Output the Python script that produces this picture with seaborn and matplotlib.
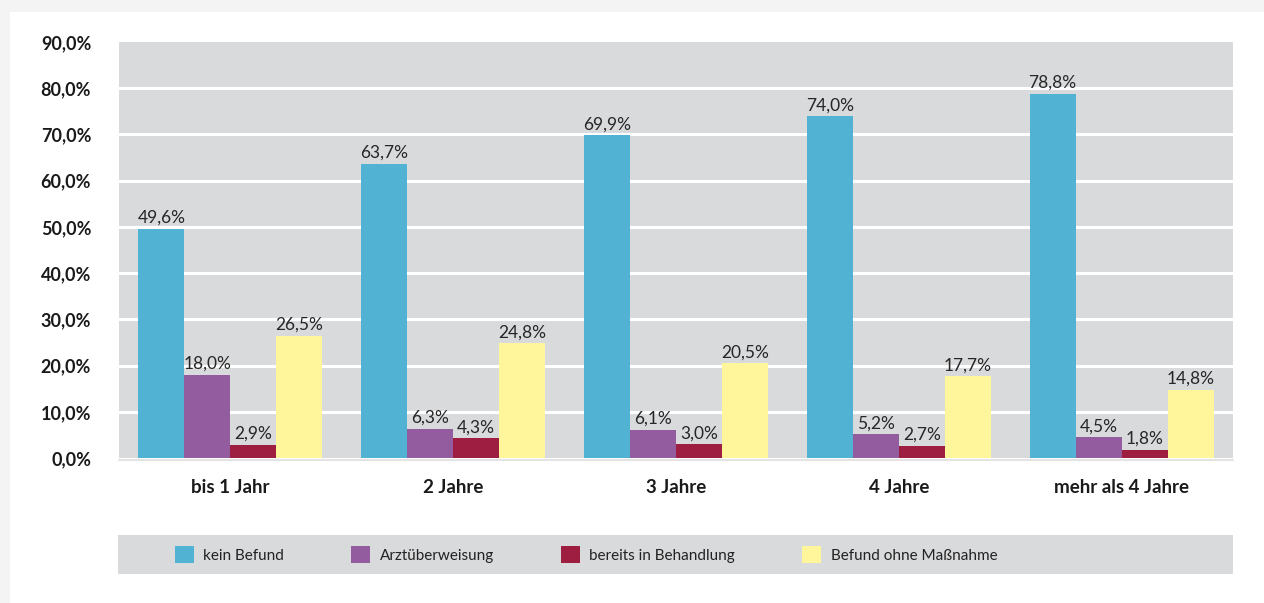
import matplotlib
matplotlib.use("Agg")
import matplotlib.pyplot as plt
from matplotlib.patches import Rectangle, Patch
import seaborn as sns
import pandas as pd

# Data
categories = ["bis 1 Jahr", "2 Jahre", "3 Jahre", "4 Jahre", "mehr als 4 Jahre"]
series_names = ["kein Befund", "Arztüberweisung", "bereits in Behandlung", "Befund ohne Maßnahme"]
kein_befund = [49.6, 63.7, 69.9, 74.0, 78.8]
arztueberweisung = [18.0, 6.3, 6.1, 5.2, 4.5]
in_behandlung = [2.9, 4.3, 3.0, 2.7, 1.8]
ohne_massnahme = [26.5, 24.8, 20.5, 17.7, 14.8]
y_ticks = [0, 10, 20, 30, 40, 50, 60, 70, 80, 90]

colors = ["#52B2D4", "#925C9F", "#9E1E42", "#FFF59B"]

series_values = [kein_befund, arztueberweisung, in_behandlung, ohne_massnahme]
rows = []
for name, vals in zip(series_names, series_values):
    for cat, v in zip(categories, vals):
        rows.append({"Altersgruppe": cat, "Serie": name, "Wert": v})
df = pd.DataFrame(rows)

sns.set_theme(style="white")
plt.rcParams["font.family"] = ["Lato", "DejaVu Sans"]

W, H = 1264, 603
fig = plt.figure(figsize=(W / 100, H / 100), dpi=100, facecolor="#f4f4f4")

# white card behind everything
fig.patches.append(Rectangle((10 / W, 0), 1 - 10 / W, 1 - 12 / H,
                             transform=fig.transFigure, facecolor="white",
                             edgecolor="none", zorder=-10))

ax = fig.add_axes([119 / W, (H - 458) / H, (1233 - 119) / W, (458 - 42) / H])
ax.set_facecolor("#D9DADC")

sns.barplot(data=df, x="Altersgruppe", y="Wert", hue="Serie",
            order=categories, hue_order=series_names, palette=colors,
            width=0.825, gap=0, saturation=1, legend=False, ax=ax,
            linewidth=0, zorder=3)

ax.set_xlim(-0.5, len(categories) - 0.5)
ax.set_ylim(0, 90)
ax.set_yticks(y_ticks)
ax.set_yticklabels([f"{t:.1f}".replace(".", ",") + "%" for t in y_ticks],
                   fontsize=13, fontweight="bold", color="#1a1a1a")
for t in y_ticks[1:-1]:
    ax.axhline(t, color="white", lw=2.2, zorder=1)

ax.tick_params(axis="x", length=0, pad=15, labelsize=13.5, labelcolor="#1a1a1a")
ax.tick_params(axis="y", length=0, pad=20)
for lbl in ax.get_xticklabels():
    lbl.set_fontweight("bold")
ax.set_xlabel("")
ax.set_ylabel("")
for s in ax.spines.values():
    s.set_visible(False)

# value labels
for container, vals in zip(ax.containers, series_values):
    ax.bar_label(container, labels=[f"{v:.1f}".replace(".", ",") + "%" for v in vals],
                 padding=2, fontsize=12.5, color="#262626")

# baseline below bars
ax.plot([0, 1], [-0.004, -0.004], transform=ax.transAxes, color="#e4e4e4",
        lw=1.5, clip_on=False, zorder=4)

# legend band
lax = fig.add_axes([118 / W, (H - 574) / H, (1233 - 118) / W, 39 / H])
lax.set_facecolor("#D9DADC")
lax.set_xticks([])
lax.set_yticks([])
for s in lax.spines.values():
    s.set_visible(False)
handles = [Patch(facecolor=c, edgecolor="none", label=n) for c, n in zip(colors, series_names)]
lax.legend(handles=handles, loc="center left", bbox_to_anchor=(57 / 1115, 0.5),
           ncol=4, frameon=False, fontsize=11, handlelength=1.25, handleheight=1.25,
           handletextpad=0.6, columnspacing=4.4, borderpad=0, borderaxespad=0,
           labelcolor="#222222")

fig.savefig("out.png", dpi=100, facecolor=fig.get_facecolor())
